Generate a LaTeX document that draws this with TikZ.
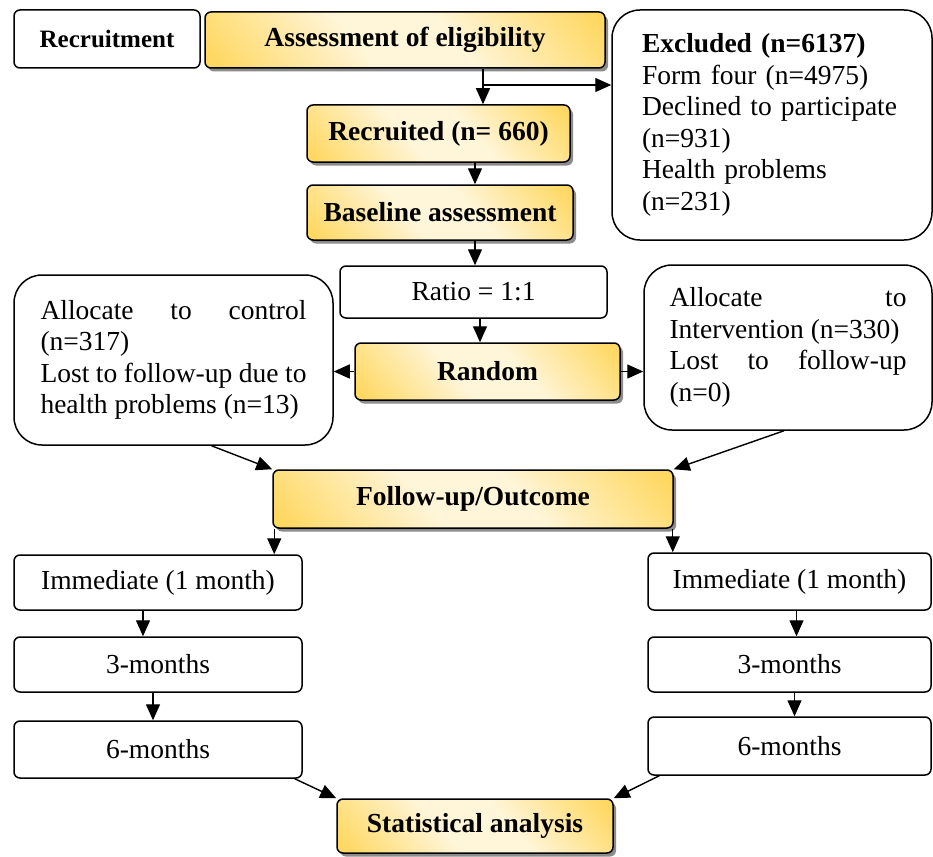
\documentclass[tikz,border=0pt]{standalone}
\usepackage{fontspec}
\setmainfont{Liberation Serif}
\usetikzlibrary{shadows,arrows.meta}

\definecolor{goldL}{HTML}{FFF5D8}
\definecolor{goldD}{HTML}{FFD862}
\pgfdeclarehorizontalshading{goldband}{100bp}{color(0bp)=(goldD); color(17bp)=(goldD);
  color(42bp)=(goldL); color(58bp)=(goldL); color(83bp)=(goldD); color(100bp)=(goldD)}

\tikzset{
  box/.style={draw, line width=1.5pt, rounded corners=6pt, fill=white, inner sep=0pt,
    font=\fontsize{27.5}{31.5}\selectfont},
  gold/.style={box, font=\fontsize{27.5}{31.5}\selectfont\bfseries,
    shading=goldband, shading angle=40,
    drop shadow={shadow xshift=3pt, shadow yshift=-3.5pt, fill=black!45, opacity=1}},
  bigbox/.style={box, rounded corners=28pt},
  arr/.style={-{Triangle[length=16pt,width=14pt]}, line width=1.4pt}
}

\begin{document}
\begin{tikzpicture}[x=1pt, y=-1pt]
    \useasboundingbox (0, 0) rectangle (933, 856);
    \node[box, font=\fontsize{25}{30}\selectfont\bfseries, minimum width=186, minimum height=58](recm) at (107, 39) {Recruitment};
    \node[gold, minimum width=400, minimum height=56](asse) at (405, 40) {Assessment of eligibility};
    \node[bigbox, text width=260, inner xsep=30, minimum height=230, align=left](exc) at (772, 125)
      {\textbf{Excluded (n=6137)}\\ Form four (n=4975)\\ Declined to participate\\ (n=931)\\ Health problems\\ (n=231)};
    \node[gold, minimum width=263, minimum height=57](recr) at (438.5, 133.5) {Recruited (n= 660)};
    \node[gold, minimum width=266, minimum height=55](base) at (440, 212.5) {Baseline assessment};
    \node[box, minimum width=267, minimum height=52](ratio) at (473.5, 292) {Ratio = 1:1};
    \node[gold, minimum width=265, minimum height=57](rand) at (487.5, 371.5) {Random};
    \node[bigbox, text width=266, inner xsep=26.5, minimum height=170, align=justify](ctrl) at (173.5, 360)
      {Allocate to control\linebreak (n=317)\\ Lost to follow-up due to\linebreak health problems (n=13)};
    \node[bigbox, text width=237, inner xsep=25.5, minimum height=165, align=justify](intv) at (788, 347.5)
      {Allocate to\linebreak Intervention (n=330)\\ Lost to follow-up\linebreak (n=0)};
    \node[gold, minimum width=400, minimum height=58](fu) at (473, 499) {Follow-up/Outcome};
    \node[box, minimum width=288, minimum height=55](imL) at (158, 582.5) {Immediate (1 month)};
    \node[box, minimum width=288, minimum height=55](thrL) at (158, 664.5) {3-months};
    \node[box, minimum width=288, minimum height=57](sixL) at (158, 749.5) {6-months};
    \node[box, minimum width=283, minimum height=57](imR) at (789.5, 581.5) {Immediate (1 month)};
    \node[box, minimum width=283, minimum height=55](thrR) at (789.5, 664.5) {3-months};
    \node[box, minimum width=283, minimum height=58](sixR) at (789.5, 746) {6-months};
    \node[gold, minimum width=276, minimum height=54](stat) at (475, 826) {Statistical analysis};
    \coordinate(j) at (483, 85);
    \draw[arr] (asse.south -| j)--(recr.north -| j);
    \draw[arr] (j)--(j -| exc.west);
    \draw[arr] (recr.south -| 475, 0)--(base.north -| 475, 0);
    \draw[arr] (base.south -| 475, 0)--(ratio.north -| 475, 0);
    \draw[arr] (ratio.south -| 480, 0)--(rand.north -| 480, 0);
    \draw[arr] (rand.west)--(rand.west -| ctrl.east);
    \draw[arr] (rand.east)--(rand.east -| intv.west);
    \draw[arr] ([xshift=38pt]ctrl.south)--(fu.north west);
    \draw[arr] ([xshift=-4pt]intv.south)--(fu.north east);
    \draw[arr] ([xshift=2pt]fu.south west)--([xshift=2pt]fu.south west |- imL.north);
    \draw[arr] ([xshift=-1pt]fu.south east)--([xshift=-1pt]fu.south east |- imR.north);
    \draw[arr] ([xshift=-15pt]imL.south)--([xshift=-15pt]thrL.north);
    \draw[arr] ([xshift=-5pt]thrL.south)--([xshift=-5pt]sixL.north);
    \draw[arr] ([xshift=7pt]imR.south)--([xshift=7pt]thrR.north);
    \draw[arr] ([xshift=5pt]thrR.south)--([xshift=5pt]sixR.north);
    \draw[arr] ([xshift=-8pt]sixL.south east)--(stat.north west);
    \draw[arr] ([xshift=12pt]sixR.south west)--(stat.north east);
  \end{tikzpicture}
\end{document}
